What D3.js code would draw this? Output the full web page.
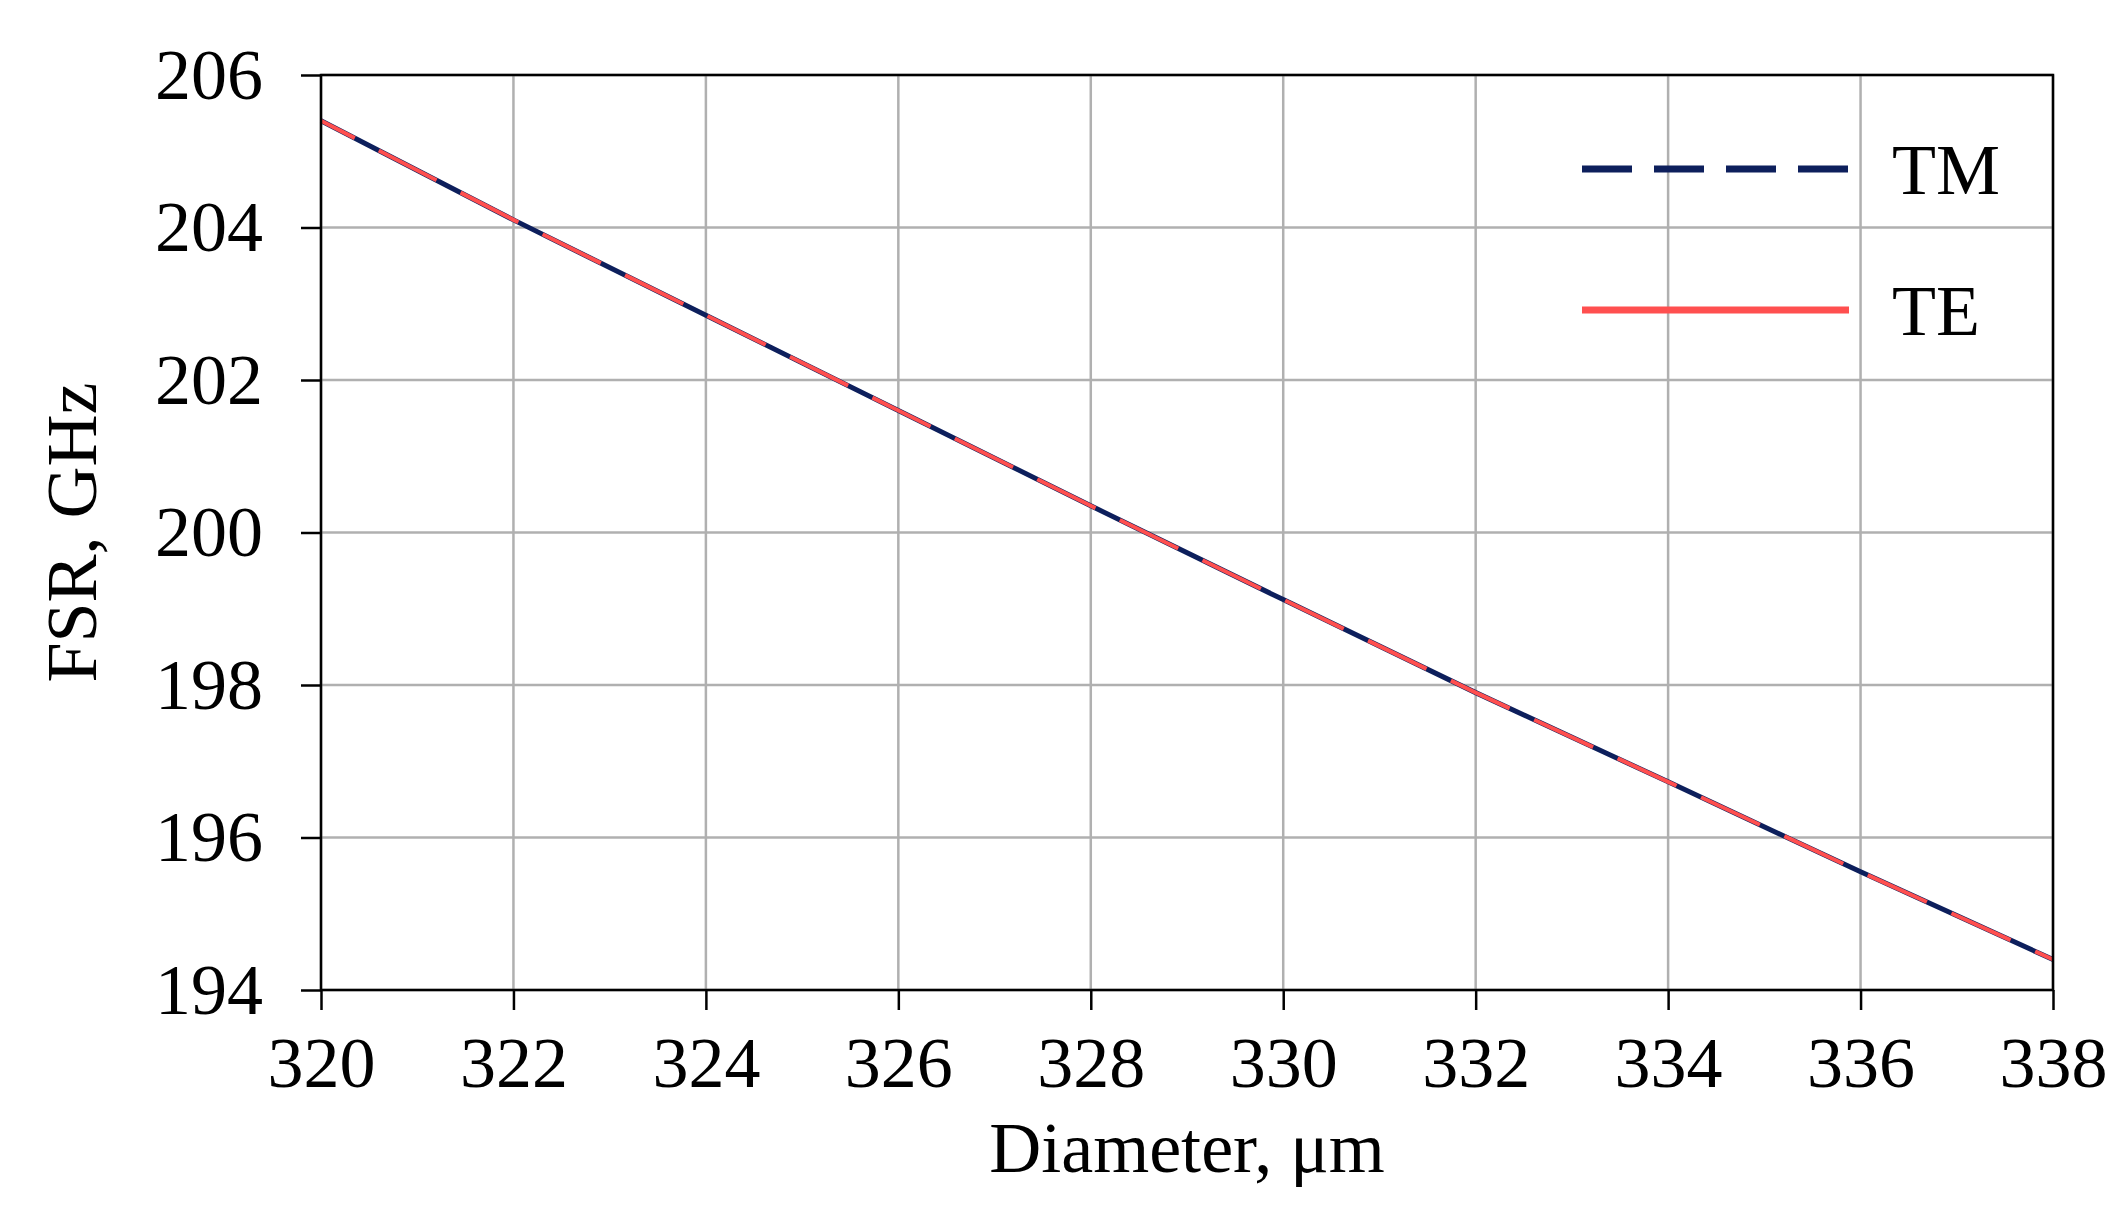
<!DOCTYPE html>
<html><head><meta charset="utf-8">
<script src="https://cdn.jsdelivr.net/npm/d3@7"></script>
<style>body{margin:0;background:#fff}text{font-family:"Liberation Serif","DejaVu Serif",serif}</style>
</head><body><svg id="c" width="2124" height="1213"></svg>
<script>
const diameter = [320, 322, 324, 326, 328, 330, 332, 334, 336, 338];
const fsrTM = [205.4, 204.1, 202.85, 201.6, 200.35, 199.12, 197.9, 196.73, 195.55, 194.4];
const fsrTE = [205.4, 204.1, 202.85, 201.6, 200.35, 199.12, 197.9, 196.73, 195.55, 194.4];
const xTicks = d3.range(320, 339, 2);
const yTicks = d3.range(194, 207, 2);

const margin = {left: 321, right: 71, top: 75, bottom: 223};
const W = 2124, H = 1213;
const iW = W - margin.left - margin.right, iH = H - margin.top - margin.bottom;
const svg = d3.select("#c");
const g = svg.append("g").attr("transform", `translate(${margin.left},${margin.top})`);
const x = d3.scaleLinear().domain([320, 338]).range([0, iW]);
const y = d3.scaleLinear().domain([194, 206]).range([iH, 0]);

g.selectAll("line.gx").data(xTicks).join("line").attr("x1", d => x(d)).attr("x2", d => x(d))
  .attr("y1", 0).attr("y2", iH).attr("stroke", "#b0b0b0").attr("stroke-width", 2.5);
g.selectAll("line.gy").data(yTicks).join("line").attr("y1", d => y(d)).attr("y2", d => y(d))
  .attr("x1", 0).attr("x2", iW).attr("stroke", "#b0b0b0").attr("stroke-width", 2.5);

const line = d3.line().x((d, i) => x(diameter[i])).y(d => y(d));
g.append("path").datum(fsrTM).attr("d", line).attr("fill", "none").attr("stroke", "#0d1f5c")
  .attr("stroke-width", 5);
g.append("path").datum(fsrTE).attr("d", line).attr("fill", "none").attr("stroke", "#ff4f4f")
  .attr("stroke-width", 4).attr("stroke-dasharray", "65,27").attr("stroke-dashoffset", 27);

g.append("rect").attr("width", iW).attr("height", iH).attr("fill", "none").attr("stroke", "#000").attr("stroke-width", 2.5);

const xa = g.append("g").attr("transform", `translate(0,${iH})`)
  .call(d3.axisBottom(x).tickValues(xTicks).tickSize(20).tickPadding(26));
const ya = g.append("g").call(d3.axisLeft(y).tickValues(yTicks).tickSize(20).tickPadding(38));
[xa, ya].forEach(a => {
  a.select(".domain").remove();
  a.selectAll("line").attr("stroke-width", 2.5);
  a.selectAll("text").attr("font-size", 72).attr("font-family", "Liberation Serif").attr("fill", "#000");
});

svg.append("text").attr("x", margin.left + iW / 2).attr("y", 1172).attr("text-anchor", "middle")
  .attr("font-size", 72).text("Diameter, μm");
svg.append("text").attr("transform", `translate(96,${margin.top + iH / 2}) rotate(-90)`)
  .attr("text-anchor", "middle").attr("font-size", 72).text("FSR, GHz");

const legend = [{name: "TM", color: "#0d1f5c", dash: "50,22", y: 169}, {name: "TE", color: "#ff4f4f", dash: null, y: 310}];
legend.forEach(l => {
  svg.append("line").attr("x1", 1582).attr("x2", 1849).attr("y1", l.y).attr("y2", l.y)
    .attr("stroke", l.color).attr("stroke-width", 7).attr("stroke-dasharray", l.dash);
  svg.append("text").attr("x", 1892).attr("y", l.y + 25).attr("font-size", 72).text(l.name);
});
</script></body></html>
